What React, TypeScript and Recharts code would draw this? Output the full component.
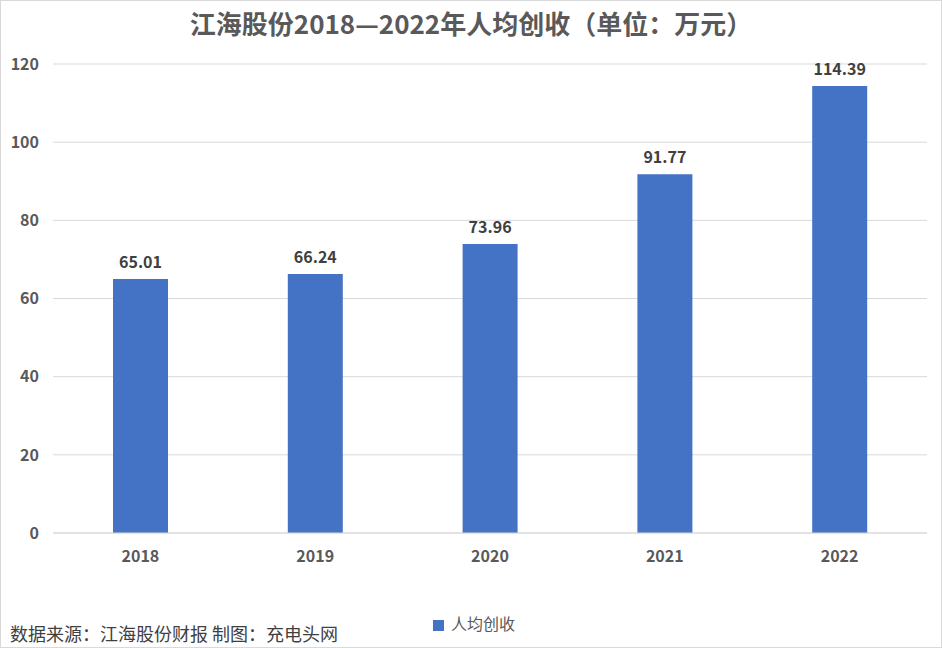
import React from 'react';
import { BarChart, Bar, XAxis, YAxis, CartesianGrid, LabelList, Legend } from 'recharts';

const years = ['2018', '2019', '2020', '2021', '2022'];
const revenuePerCapita = [65.01, 66.24, 73.96, 91.77, 114.39];
const yTicks = [0, 20, 40, 60, 80, 100, 120];
const seriesName = '人均创收';
const title = '江海股份2018—2022年人均创收（单位：万元）';
const sourceNote = '数据来源：江海股份财报 制图：充电头网';

const data = years.map((y, i) => ({ year: y, value: revenuePerCapita[i] }));

const font = '"Noto Sans CJK SC", "Noto Sans", sans-serif';

export default function App() {
  return (
    <div style={{ position: 'absolute', left: 0, top: 0, width: 942, height: 648, background: '#fff', fontFamily: font }}>
      <div style={{ position: 'absolute', left: 0, top: 0, width: 940, height: 646, border: '1px solid #d9d9d9' }} />
      <div style={{ position: 'absolute', left: 0, top: 4, width: 942, textAlign: 'center', fontSize: 26, fontWeight: 700, color: '#595959', lineHeight: '38px' }}>
        {title}
      </div>
      <BarChart width={942} height={648} data={data} margin={{ top: 64, right: 15, bottom: 61, left: 0 }}>
        <CartesianGrid vertical={false} stroke="#d9d9d9" />
        <XAxis
          dataKey="year"
          axisLine={{ stroke: '#d9d9d9' }}
          tickLine={false}
          tickMargin={12}
          tick={{ fill: '#595959', fontSize: 16, fontWeight: 700, fontFamily: font }}
        />
        <YAxis
          width={53}
          domain={[0, 120]}
          ticks={yTicks}
          axisLine={false}
          tickLine={false}
          tickSize={0}
          tickMargin={14}
          tick={{ fill: '#595959', fontSize: 16, fontWeight: 700, fontFamily: font }}
        />
        <Legend
          verticalAlign="bottom"
          iconType="square"
          iconSize={11}
          wrapperStyle={{ position: 'absolute', top: 611, left: 8, width: 942, fontSize: 16, fontFamily: font }}
          formatter={(v) => <span style={{ color: '#595959', marginLeft: 3 }}>{v}</span>}
        />
        <Bar dataKey="value" name={seriesName} fill="#4472c4" barSize={55} isAnimationActive={false}>
          <LabelList dataKey="value" position="top" offset={11} fill="#404040" fontSize={16} fontWeight={700} fontFamily={font} />
        </Bar>
      </BarChart>
      <div style={{ position: 'absolute', left: 10, top: 621, fontSize: 18, color: '#404040', lineHeight: '24px' }}>
        {sourceNote}
      </div>
    </div>
  );
}
